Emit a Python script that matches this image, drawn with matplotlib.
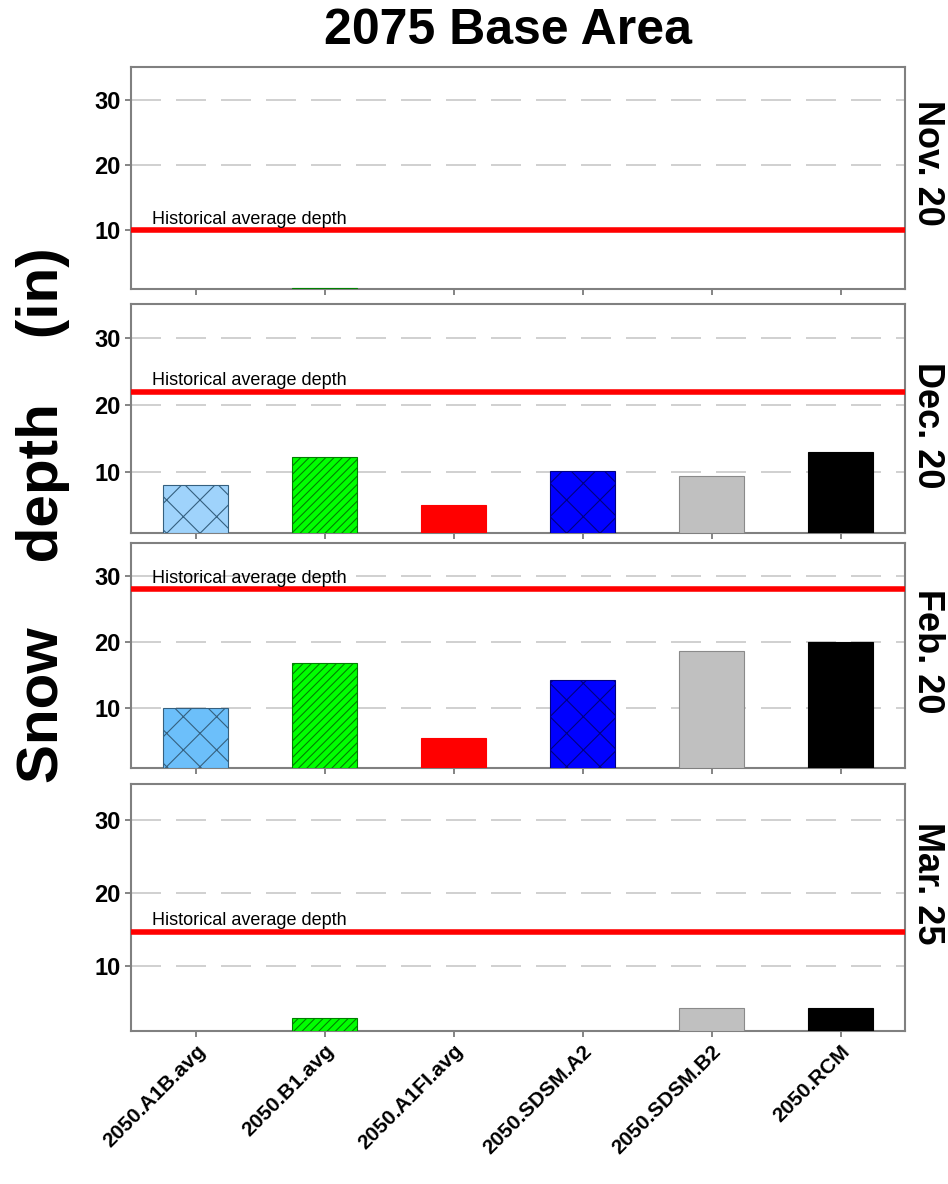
import numpy as np
import matplotlib.pyplot as plt

plt.rcParams['font.family'] = ['Liberation Sans', 'DejaVu Sans']
plt.rcParams['hatch.linewidth'] = 0.8

scenarios = ['2050.A1B.avg', '2050.B1.avg', '2050.A1FI.avg',
             '2050.SDSM.A2', '2050.SDSM.B2', '2050.RCM']
dates = ['Nov. 20', 'Dec. 20', 'Feb. 20', 'Mar. 25']
hist_depth = [10, 22, 28, 14.6]
# snow depth (in) for each date, one value per scenario
depth_nov = [0, 1.1, 0, 0, 0, 0]
depth_dec = [8.1, 12.3, 5.2, 10.2, 9.4, 13.0]
depth_feb = [10.1, 16.8, 5.6, 14.3, 18.6, 20.0]
depth_mar = [0, 2.8, 0, 0, 4.2, 4.2]
depths = [depth_nov, depth_dec, depth_feb, depth_mar]

face = ['#9fd3fb', '#00ff00', '#ff0000', '#0000ff', '#c0c0c0', '#000000']
face_feb = ['#6cbffa', '#00ff00', '#ff0000', '#0000ff', '#c0c0c0', '#000000']
hatch_col = ['#35607f', '#008000', '#ff0000', '#000080', '#8a8a8a', '#000000']
hatches = ['x', '////', None, 'x', None, None]

fig = plt.figure(figsize=(9.48, 11.84), dpi=100)
# axes boxes in figure fraction: left, bottom, width, height
boxes = [(0.1382, 0.7559, 0.8165, 0.1875),
         (0.1382, 0.5498, 0.8165, 0.1934),
         (0.1382, 0.3514, 0.8165, 0.1900),
         (0.1382, 0.1292, 0.8165, 0.2086)]
label_y = [0.57, 0.47, 0.52, 0.60]  # where the date label sits on the right

x = np.arange(len(scenarios))
for i in range(4):
    ax = fig.add_axes(boxes[i])
    cols = face_feb if i == 2 else face
    for j in range(len(scenarios)):
        v = depths[i][j]
        if v <= 0:
            continue
        ax.bar(x[j], v - 1, bottom=1, width=0.5, color=cols[j],
               edgecolor=hatch_col[j], hatch=hatches[j], linewidth=0.8,
               zorder=3)
    for g in [10, 20, 30]:
        ax.axhline(g, color='#c8c8c8', lw=1.2, ls=(0, (18, 9)), zorder=1)
    ax.axhline(hist_depth[i], color='#ff0000', lw=4, zorder=4)
    ax.text(-0.34, hist_depth[i] + 0.4, 'Historical average depth',
            fontsize=13, va='bottom', ha='left', zorder=5)
    ax.set_xlim(-0.5, 5.5)
    ax.set_ylim(1, 35)
    ax.set_yticks([10, 20, 30])
    ax.set_yticklabels(['10', '20', '30'], fontsize=17, fontweight='bold')
    ax.set_xticks(x)
    if i == 3:
        ax.set_xticklabels(scenarios, rotation=45, ha='right',
                           rotation_mode='anchor', fontsize=15,
                           fontweight='bold')
    else:
        ax.set_xticklabels([])
    ax.tick_params(direction='out', length=4, color='#707070', width=1.2)
    for s in ax.spines.values():
        s.set_color('#808080')
        s.set_linewidth(1.5)
    ax.text(1.006, label_y[i], dates[i], transform=ax.transAxes, rotation=270,
            fontsize=26, fontweight='bold', va='center', ha='left')

fig.text(0.536, 0.974, '2075 Base Area', fontsize=36, fontweight='bold',
         ha='center', va='center')
fig.text(0.045, 0.565, 'Snow    depth    (in)', fontsize=42,
         fontweight='bold', rotation=90, ha='center', va='center')

fig.savefig('out.png', dpi=100)
